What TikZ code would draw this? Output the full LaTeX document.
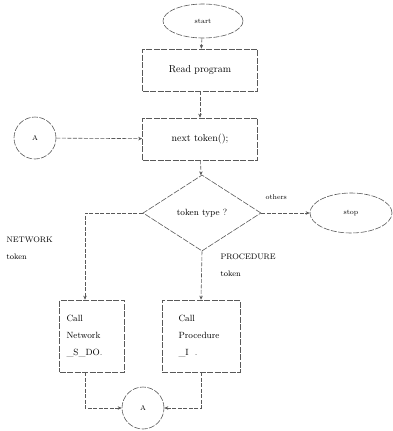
\documentclass[tikz,border=0pt]{standalone}
\usepackage{tikz}
\usetikzlibrary{shapes.geometric,arrows.meta,positioning}

\begin{document}
\begin{tikzpicture}[x=1pt,y=-1pt,
        outline/.style={draw=black!65, line width=0.6pt, dash pattern=on 6pt off 1.5pt},
        term/.style={outline, ellipse, minimum width=80pt, minimum height=34pt, font=\scriptsize},
        procbox/.style={outline, rectangle, minimum width=115pt, minimum height=42pt, font=\normalsize},
        callbox/.style={outline, rectangle, minimum height=72pt, align=left, font=\small},
        decision/.style={outline, diamond, aspect=1.55, minimum width=118pt, minimum height=76pt, inner sep=0pt, font=\small},
        connector/.style={outline, circle, minimum size=42pt, font=\scriptsize},
        flow/.style={draw=black!65, line width=0.6pt, dash pattern=on 4pt off 1.5pt, -{Stealth[length=4pt,width=3.5pt]}},
        note/.style={font=\footnotesize, align=left, anchor=west}
    ]
        \useasboundingbox (0,0) rectangle (393,431);

        % Main column
        \node[term] (start) at (203,21) {start};
        \node[procbox] (read) at (200,70) {Read program};
        \node[procbox] (ntoken) at (200,139) {next token();};
        \node[decision] (ttype) at (202,213) {token type ?};
        \node[term, minimum width=82pt, minimum height=40pt] (stop) at (351,213) {stop};

        % Entry connector
        \node[connector] (connA) at (35,138) {A};

        % Call boxes
        \node[callbox, text width=51pt, inner xsep=7pt] (callnet) at (92,336)
            {Call\\[6pt]Network\\[6pt]\_S\_DO.};
        \node[callbox, text width=45pt, inner xsep=16.5pt] (callproc) at (201,336)
            {Call\\[6pt]Procedure\\[6pt]\_I~~.};

        % Exit connector
        \node[connector] (connB) at (143,408) {A};

        % Branch labels
        \node[note] (netlbl) at (3,248) {NETWORK\\[7pt]token};
        \node[note] (proclbl) at (217,265) {PROCEDURE\\[7pt]token};
        \node[note, font=\scriptsize] (othlbl) at (262,197) {others};

        % Flow
        \draw[flow] (start) -- (read);
        \draw[flow] (read) -- (ntoken);
        \draw[flow] (connA) -- (ntoken);
        \draw[flow] (ntoken) -- (ttype);
        \draw[flow] (ttype) -- (stop);
        \draw[flow] (ttype.west) -| ([xshift=-7pt]callnet.north);
        \draw[flow] (ttype.south) -- (callproc.north);
        \draw[flow] ([xshift=-7pt]callnet.south) |- (connB.west);
        \draw[flow] (callproc.south) |- (connB.east);

    \end{tikzpicture}
\end{document}
